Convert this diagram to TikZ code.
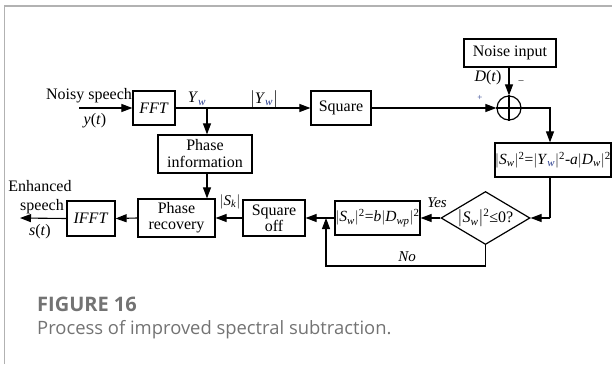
\documentclass[tikz,border=0pt]{standalone}
\usepackage{fontspec}
\setmainfont{Liberation Serif}
\newfontfamily\capfont{Open Sans}
\usetikzlibrary{arrows.meta,shapes.geometric}
\definecolor{subblue}{RGB}{40,60,140}
\newcommand{\sw}[1]{\textsubscript{\textit{#1}}}
\newcommand{\sq}{\textsuperscript{2}}
\begin{document}
\begin{tikzpicture}[x=1pt,y=-1pt,
  box/.style={draw,line width=1.2pt,inner sep=0pt,font=\fontsize{16}{17}\selectfont,align=center},
  lbl/.style={inner sep=0pt,font=\fontsize{16}{17}\selectfont},
  con/.style={line width=1.1pt},
  arr/.style={con,-{Triangle[length=11pt,width=8pt]}}]
\useasboundingbox (0,0) rectangle (612,364);
\draw[line width=1.3pt,black!30] (4.5,364) -- (4.5,6) -- (612,6);
% boxes
\node[box,minimum width=42,minimum height=34] (fft) at (154,108) {\textit{FFT}};
\node[box,minimum width=60,minimum height=34] (sq) at (341,108) {Square};
\node[draw,circle,line width=1.2pt,minimum size=24,inner sep=0pt] (circ) at (509,108) {};
\draw[line width=1.1pt] (circ.north) -- (circ.south) (circ.west) -- (circ.east);
\node[box,minimum width=92,minimum height=28] (noise) at (510,53) {Noise input};
\node[box,minimum width=116,minimum height=34,font=\fontsize{15.5}{16}\selectfont] (form) at (553,160) {$|$\textit{S}\sw{w}$|$\sq=$|$\textit{Y}\textsubscript{\textcolor{subblue}{\textit{w}}}$|$\sq-\textit{a}$|$\textit{D}\sw{w}$|$\sq};
\node[draw,diamond,line width=1.2pt,minimum width=89,minimum height=53,inner sep=0pt,aspect=1.68] (dia) at (485.5,218) {};
\node[lbl,font=\fontsize{16}{17}\selectfont] (diat) at (485.5,218) {$|$\textit{S}\sw{w}$|$\sq≤0?};
\node[box,minimum width=85,minimum height=34,font=\fontsize{15.5}{16}\selectfont] (sb) at (377.5,218) {$|$\textit{S}\sw{w}$|$\sq=\textit{b}$|$\textit{D}\sw{wp}$|$\sq};
\node[box,minimum width=62,minimum height=36,text width=58pt,font=\fontsize{16}{16}\selectfont] (soff) at (274,218) {Square\\off};
\node[box,minimum width=77,minimum height=38,text width=73pt,font=\fontsize{16}{16}\selectfont] (pr) at (176.5,218) {Phase\\recovery};
\node[box,minimum width=48,minimum height=35] (ifft) at (91,218.5) {\textit{IFFT}};
\node[box,minimum width=94,minimum height=38,text width=90pt,font=\fontsize{16}{17}\selectfont] (pi) at (205,154) {Phase\\information};
% labels
\node[lbl] (noisy) at (89,96) {Noisy speech};
\node[lbl] (yt) at (95,121) {\textit{y}(\textit{t})};
\node[lbl] (ywl) at (197,99) {\textit{Y}\textsubscript{\textcolor{subblue}{\textit{w}}}};
\node[lbl] (aywl) at (264,99) {$|$\textit{Y}\textsubscript{\textcolor{subblue}{\textit{w}}}$|$};
\node[lbl] (dt) at (488,78) {\textit{D}(\textit{t})};
\node[lbl,font=\fontsize{9}{9}\selectfont,text=subblue] (plus) at (480,98) {+};
\node[lbl,font=\fontsize{10}{10}\selectfont] (minus) at (521,82) {--};
\node[lbl,font=\fontsize{15}{16}\selectfont] (yes) at (437,203) {\textit{Yes}};
\node[lbl,font=\fontsize{15}{16}\selectfont] (no) at (407,257) {\textit{No}};
\node[lbl,font=\fontsize{15}{16}\selectfont] (sk) at (230,202) {$|$\textit{S}\sw{k}$|$};
\node[lbl] (enh) at (40,186) {Enhanced};
\node[lbl] (spch) at (42,207) {speech};
\node[lbl] (st) at (40,232) {\textit{s}(\textit{t})};
% coordinates
\coordinate (in) at (79,108);
\coordinate (j1) at (207,108);
\coordinate (c1) at (550,108);
\coordinate (c2) at (550,218);
\coordinate (n1) at (485.5,266);
\coordinate (n2) at (326,266);
\coordinate (n3) at (326,218);
\coordinate (out) at (20,218);
% connectors
\draw[arr] (in) -- (fft.west);
\draw[arr] (fft.east) -- (sq.west);
\draw[arr] (j1) -- (j1 |- pi.north);
\draw[arr] (sq.east) -- (circ.west);
\draw[arr] (circ.north |- noise.south) -- (circ.north);
\draw[arr] (circ.east) -- (c1) -- (c1 |- form.north);
\draw[con] (c1 |- form.south) -- (c2);
\draw[arr] (c2) -- (dia.east);
\draw[arr] (dia.west) -- (sb.east);
\draw[arr] (sb.west) -- (soff.east);
\draw[arr] (dia.south) -- (n1) -- (n2) -- (n3);
\draw[arr] (soff.west) -- (pr.east);
\draw[arr] (j1 |- pi.south) -- (j1 |- pr.north);
\draw[arr] (pr.west) -- (ifft.east);
\draw[arr] (ifft.west) -- (out);
% caption
\node[anchor=base west,inner sep=0pt,text=black!55,font=\capfont\bfseries\fontsize{20}{21}\selectfont] (fig) at (37,311) {FIGURE 16};
\node[anchor=base west,inner sep=0pt,text=black!55,font=\capfont\fontsize{18.4}{20}\selectfont] (cap) at (37,334) {Process of improved spectral subtraction.};
\end{tikzpicture}
\end{document}
